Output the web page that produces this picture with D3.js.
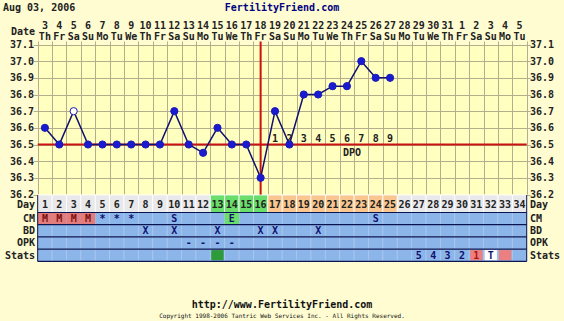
<!DOCTYPE html>
<html>
<head>
<meta charset="utf-8">
<script src="https://cdn.jsdelivr.net/npm/d3@7"></script>
<style>
  html, body { margin: 0; padding: 0; background: #fffcd2; }
  svg text { font-family: "DejaVu Sans Mono", monospace; font-weight: bold; }
</style>
</head>
<body>
<div id="chart"></div>
<script>
// chart data
var dayNums = [1, 2, 3, 4, 5, 6, 7, 8, 9, 10, 11, 12, 13, 14, 15, 16, 17,
   18, 19, 20, 21, 22, 23, 24, 25, 26, 27, 28, 29, 30, 31, 32, 33, 34];
var dateNums = ["3", "4", "5", "6", "7", "8", "9", "10", "11", "12", "13", "14", "15", "16", "17", "18", "19",
   "20", "21", "22", "23", "24", "25", "26", "27", "28", "29", "30", "31", "1", "2", "3", "4", "5"];
var weekDays = ["Th", "Fr", "Sa", "Su", "Mo", "Tu", "We", "Th", "Fr", "Sa", "Su", "Mo", "Tu", "We", "Th", "Fr", "Sa",
   "Su", "Mo", "Tu", "We", "Th", "Fr", "Sa", "Su", "Mo", "Tu", "We", "Th", "Fr", "Sa", "Su", "Mo", "Tu"];
var temps = [36.6, 36.5, 36.7, 36.5, 36.5, 36.5, 36.5, 36.5, 36.5, 36.7, 36.5, 36.45, 36.6,
   36.5, 36.5, 36.3, 36.7, 36.5, 36.8, 36.8, 36.85, 36.85, 37.0, 36.9, 36.9];
var openDays = [3];
var tempTicks = [36.2, 36.3, 36.4, 36.5, 36.6, 36.7, 36.8, 36.9, 37.0, 37.1];
var coverLine = 36.5;
var ovulationDay = 16;
var dpoDays = [17, 18, 19, 20, 21, 22, 23, 24, 25];
var dpoLabels = ["1", "2", "3", "4", "5", "6", "7", "8", "9"];
var fertileDays = [13, 14, 15, 16];
var lutealDays = [17, 18, 19, 20, 21, 22, 23, 24, 25];
var cmDays = [1, 2, 3, 4, 5, 6, 7, 10, 14, 24];
var cmLabels = ["M", "M", "M", "M", "*", "*", "*", "S", "E", "S"];
var bdDays = [8, 10, 13, 16, 17, 20];
var opkDays = [11, 12, 13, 14];
var statDays = [13, 27, 28, 29, 30, 31, 32, 33];
var statLabels = ["", "5", "4", "3", "2", "1", "T", ""];
var rowNames = ["CM", "BD", "OPK", "Stats"];

(function () {
   var width = 564, height = 321;
   var pLeft = 37.7, pRight = 526.7, pTop = 44.5, pBottom = 194.5;
   var rowH = 12.2, dayRowTop = 195, dayRowH = 17.5;

   var x = d3.scaleBand().domain(dayNums).range([pLeft, pRight]);
   var y = d3.scaleLinear().domain([36.2, 37.1]).range([pBottom, pTop]);
   var cx = function (d) { return x(d) + x.bandwidth() / 2; };

   var svg = d3.select("#chart").append("svg")
      .attr("width", width)
      .attr("height", height);

   // header
   svg.append("text").attr("x", 3).attr("y", 11).attr("font-size", 10).attr("fill", "#222")
      .text("Aug 03, 2006");
   svg.append("text").attr("x", 282).attr("y", 11).attr("font-size", 10).attr("fill", "#000080")
      .attr("text-anchor", "middle").text("FertilityFriend.com");
   svg.append("text").attr("x", 35).attr("y", 35).attr("font-size", 10).attr("fill", "#222")
      .attr("text-anchor", "end").text("Date");

   svg.selectAll(".dnum").data(dayNums).enter().append("text")
      .attr("x", cx).attr("y", 29).attr("font-size", 10).attr("fill", "#222")
      .attr("text-anchor", "middle").text(function (d, i) { return dateNums[i]; });
   svg.selectAll(".wday").data(dayNums).enter().append("text")
      .attr("x", cx).attr("y", 40).attr("font-size", 10).attr("fill", "#222")
      .attr("text-anchor", "middle").text(function (d, i) { return weekDays[i]; });

   // plot area
   svg.append("rect").attr("x", pLeft).attr("y", pTop).attr("width", pRight - pLeft).attr("height", pBottom - pTop)
      .attr("fill", "#ffffc0");

   var grid = svg.append("g").attr("stroke", "#b4ae8c").attr("stroke-width", 1);
   grid.selectAll(".vl").data(dayNums).enter().append("line")
      .attr("x1", function (d) { return Math.round(x(d)) + 0.5; })
      .attr("x2", function (d) { return Math.round(x(d)) + 0.5; })
      .attr("y1", pTop - 3).attr("y2", pBottom);
   grid.append("line").attr("x1", Math.round(pRight) + 0.5).attr("x2", Math.round(pRight) + 0.5)
      .attr("y1", pTop - 3).attr("y2", pBottom);
   grid.selectAll(".hl").data(tempTicks).enter().append("line")
      .attr("x1", pLeft - 4).attr("x2", pRight + 4)
      .attr("y1", function (d) { return Math.round(y(d)) + 0.5; })
      .attr("y2", function (d) { return Math.round(y(d)) + 0.5; });

   // temperature axis labels
   svg.selectAll(".ltick").data(tempTicks).enter().append("text")
      .attr("x", 34).attr("y", function (d) { return y(d) + 3.5; })
      .attr("font-size", 10).attr("fill", "#222").attr("text-anchor", "end")
      .text(function (d) { return d.toFixed(1); });
   svg.selectAll(".rtick").data(tempTicks).enter().append("text")
      .attr("x", 530).attr("y", function (d) { return y(d) + 3.5; })
      .attr("font-size", 10).attr("fill", "#222")
      .text(function (d) { return d.toFixed(1); });

   // cover line and ovulation line
   svg.append("line").attr("x1", pLeft).attr("x2", pRight)
      .attr("y1", y(coverLine)).attr("y2", y(coverLine))
      .attr("stroke", "#cc1111").attr("stroke-width", 2);
   svg.append("line").attr("x1", cx(ovulationDay)).attr("x2", cx(ovulationDay))
      .attr("y1", pTop - 3).attr("y2", dayRowTop + 2)
      .attr("stroke", "#cc1111").attr("stroke-width", 2);

   // DPO labels
   svg.selectAll(".dpo").data(dpoDays).enter().append("text")
      .attr("x", cx).attr("y", y(coverLine) - 3).attr("font-size", 10).attr("fill", "#222")
      .attr("text-anchor", "middle").text(function (d, i) { return dpoLabels[i]; });
   svg.append("text").attr("x", cx(22) + 5).attr("y", y(coverLine) + 11).attr("font-size", 10)
      .attr("fill", "#222").attr("text-anchor", "middle").text("DPO");

   // temperature line
   var line = d3.line()
      .x(function (d, i) { return cx(dayNums[i]); })
      .y(function (d) { return y(d); });
   svg.append("path").datum(temps).attr("d", line)
      .attr("fill", "none").attr("stroke", "#10106e").attr("stroke-width", 1.5);
   svg.selectAll(".pt").data(temps).enter().append("circle")
      .attr("cx", function (d, i) { return cx(dayNums[i]); })
      .attr("cy", function (d) { return y(d); })
      .attr("r", 3.6)
      .attr("fill", function (d, i) { return openDays.indexOf(dayNums[i]) >= 0 ? "#ffffff" : "#1a1ad0"; })
      .attr("stroke", "#1a1ab8").attr("stroke-width", 1);

   // day row
   svg.selectAll(".dcell").data(dayNums).enter().append("rect")
      .attr("x", function (d) { return x(d); }).attr("y", dayRowTop)
      .attr("width", x.bandwidth()).attr("height", dayRowH)
      .attr("fill", function (d) {
         if (fertileDays.indexOf(d) >= 0) return "#6ade6a";
         if (lutealDays.indexOf(d) >= 0) return "#f8c68e";
         return "#e9e9ec";
      })
      .attr("stroke", "#ffffff").attr("stroke-width", 0.8);
   svg.append("text").attr("x", 35).attr("y", dayRowTop + 13).attr("font-size", 10).attr("fill", "#222")
      .attr("text-anchor", "end").text("Day");
   svg.append("text").attr("x", 530).attr("y", dayRowTop + 13).attr("font-size", 10).attr("fill", "#222")
      .text("Day");
   svg.selectAll(".dlab").data(dayNums).enter().append("text")
      .attr("x", cx).attr("y", dayRowTop + 13).attr("font-size", 10).attr("fill", "#222")
      .attr("text-anchor", "middle").text(function (d) { return d; });

   // observation rows
   var rowsTop = dayRowTop + dayRowH;
   rowNames.forEach(function (name, r) {
      var ry = rowsTop + r * rowH;
      svg.append("g").selectAll("rect").data(dayNums).enter().append("rect")
         .attr("x", function (d) { return x(d); }).attr("y", ry)
         .attr("width", x.bandwidth()).attr("height", rowH)
         .attr("fill", "#8cb6ea").attr("stroke", "#a9c6ee").attr("stroke-width", 0.8);
      svg.append("text").attr("x", 35).attr("y", ry + 9.5).attr("font-size", 10).attr("fill", "#222")
         .attr("text-anchor", "end").text(name);
      svg.append("text").attr("x", 530).attr("y", ry + 9.5).attr("font-size", 10).attr("fill", "#222")
         .text(name);
   });

   // CM row
   var cmY = rowsTop;
   svg.selectAll(".cmcell").data(cmDays).enter().append("rect")
      .attr("x", function (d) { return x(d); }).attr("y", cmY)
      .attr("width", x.bandwidth()).attr("height", rowH)
      .attr("fill", function (d, i) {
         if (cmLabels[i] === "M") return "#e37c7c";
         if (cmLabels[i] === "E") return "#6ade6a";
         return "none";
      });
   svg.selectAll(".cmtxt").data(cmDays).enter().append("text")
      .attr("x", cx).attr("y", cmY + 9.5).attr("font-size", 10)
      .attr("fill", function (d, i) { return cmLabels[i] === "M" ? "#7a1010" : "#10106e"; })
      .attr("text-anchor", "middle").text(function (d, i) { return cmLabels[i]; });

   // BD row
   svg.selectAll(".bd").data(bdDays).enter().append("text")
      .attr("x", cx).attr("y", rowsTop + rowH + 9.5).attr("font-size", 10).attr("fill", "#10106e")
      .attr("text-anchor", "middle").text("X");

   // OPK row
   svg.selectAll(".opk").data(opkDays).enter().append("text")
      .attr("x", cx).attr("y", rowsTop + 2 * rowH + 9.5).attr("font-size", 10).attr("fill", "#10106e")
      .attr("text-anchor", "middle").text("-");

   // Stats row
   var stY = rowsTop + 3 * rowH;
   svg.selectAll(".stcell").data(statDays).enter().append("rect")
      .attr("x", function (d) { return x(d) + 1; }).attr("y", stY + 1)
      .attr("width", x.bandwidth() - 2).attr("height", rowH - 2)
      .attr("fill", function (d, i) {
         if (d === 13) return "#2e9a3a";
         if (statLabels[i] === "1" || statLabels[i] === "") return "#ec8080";
         if (statLabels[i] === "T") return "#ffffff";
         return "none";
      });
   svg.selectAll(".sttxt").data(statDays).enter().append("text")
      .attr("x", cx).attr("y", stY + 9.5).attr("font-size", 10)
      .attr("fill", function (d, i) { return statLabels[i] === "1" ? "#b01010" : "#10106e"; })
      .attr("text-anchor", "middle").text(function (d, i) { return statLabels[i]; });

   // row separators
   svg.selectAll(".sep").data([0, 1, 2, 3, 4]).enter().append("line")
      .attr("x1", pLeft).attr("x2", pRight)
      .attr("y1", function (d) { return rowsTop + d * rowH; })
      .attr("y2", function (d) { return rowsTop + d * rowH; })
      .attr("stroke", "#0a1450").attr("stroke-width", 1.2);
   svg.append("line").attr("x1", pLeft).attr("x2", pLeft).attr("y1", dayRowTop).attr("y2", rowsTop + 4 * rowH)
      .attr("stroke", "#0a1450").attr("stroke-width", 1);
   svg.append("line").attr("x1", pRight).attr("x2", pRight).attr("y1", dayRowTop).attr("y2", rowsTop + 4 * rowH)
      .attr("stroke", "#0a1450").attr("stroke-width", 1);

   // footer
   svg.append("text").attr("x", 282).attr("y", 308).attr("font-size", 10).attr("fill", "#111")
      .attr("text-anchor", "middle").text("http://www.FertilityFriend.com");
   svg.append("text").attr("x", 282).attr("y", 318).attr("font-size", 6).attr("fill", "#111")
      .attr("text-anchor", "middle").style("font-weight", "normal")
      .text("Copyright 1998-2006 Tantric Web Services Inc. - All Rights Reserved.");
})();
</script>
</body>
</html>
